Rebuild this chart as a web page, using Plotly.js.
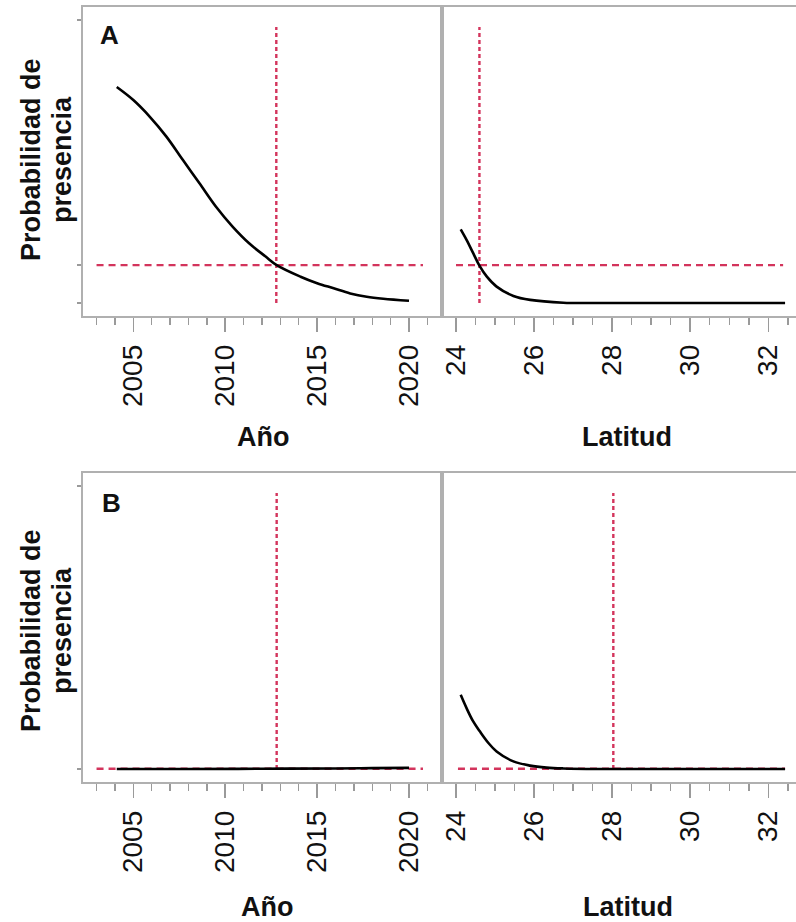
<!DOCTYPE html>
<html>
<head>
<meta charset="utf-8">
<script src="https://cdn.plot.ly/plotly-3.0.1.min.js"></script>
<style>
  html, body { margin: 0; padding: 0; background: #fff; overflow: hidden; }
  #chart { width: 796px; height: 922px; }
</style>
</head>
<body>
<div id="chart"></div>
<script>
// ---------------- DATA ----------------
// Panel A – effect of year
const yearA     = [2004.1, 2005.0, 2005.9, 2006.8, 2007.7, 2008.6, 2009.5, 2010.4, 2011.3, 2012.2, 2012.8, 2014.1, 2015.0, 2015.9, 2016.8, 2017.7, 2018.6, 2020.0];
const probYearA = [0.763, 0.717, 0.658, 0.588, 0.505, 0.423, 0.340, 0.270, 0.211, 0.164, 0.134, 0.093, 0.070, 0.052, 0.034, 0.022, 0.015, 0.008];
// Panel A – effect of latitude
const latA      = [24.12, 24.27, 24.44, 24.60, 24.79, 25.04, 25.47, 25.90, 26.75, 27.60, 32.43];
const probLatA  = [0.260, 0.223, 0.176, 0.132, 0.093, 0.058, 0.025, 0.011, 0.001, 0.000, 0.000];
// Panel B – effect of year
const yearB     = [2004.1, 2008.0, 2012.0, 2016.0, 2018.0, 2020.0];
const probYearB = [0.000, 0.000, 0.001, 0.002, 0.003, 0.004];
// Panel B – effect of latitude
const latB      = [24.12, 24.27, 24.44, 24.61, 24.83, 25.04, 25.47, 25.90, 26.32, 26.75, 27.60, 32.43];
const probLatB  = [0.262, 0.215, 0.168, 0.133, 0.092, 0.062, 0.027, 0.012, 0.005, 0.002, 0.000, 0.000];

// Reference (threshold) lines
const thresholdA    = 0.134;   // horizontal dashed line, panel A
const thresholdB    = 0.001;   // horizontal dashed line, panel B
const cutYearA      = 2012.78; // vertical dashed line, panel A (año)
const cutLatA       = 24.60;   // vertical dashed line, panel A (latitud)
const cutYearB      = 2012.80; // vertical dashed line, panel B (año)
const cutLatB       = 28.03;   // vertical dashed line, panel B (latitud)
const hSpanYear     = [2003.0, 2020.76];  // extent of horizontal dashed line (año panels)
const hSpanLatA     = [24.0, 32.38];
const hSpanLatB     = [24.05, 32.43];
const vSpan         = [0, 0.975];          // extent of vertical dashed lines

// Tick labels
const yearTicks = [2005, 2010, 2015, 2020];
const latTicks  = [24, 26, 28, 30, 32];

// Text
const yTitle1 = 'Probabilidad de';
const yTitle2 = 'presencia';
const xTitleYear = 'Año';
const xTitleLat  = 'Latitud';
const panelLabels = ['A', 'B'];

// ---------------- STYLE / LAYOUT ----------------
const W = 796, H = 922;
const M = {l: 83, r: 0, t: 7, b: 140};
const PW = W - M.l - M.r, PH = H - M.t - M.b;
const px = x => (x - M.l) / PW;          // pixel -> paper x
const py = y => (H - M.b - y) / PH;      // pixel -> paper y

const FONT = 'Liberation Sans, Arial, Helvetica, sans-serif';
const RED = '#d3345c';
const BOX = '#b0b0b0';
const TICKC = '#9a9a9a';

const curve = (x, y, xa, ya) => ({
  x, y, xaxis: xa, yaxis: ya, type: 'scatter', mode: 'lines',
  line: {color: '#000', width: 2.6, shape: 'spline', smoothing: 1.0},
  hoverinfo: 'skip', showlegend: false
});
const hline = (span, yv, xa, ya) => ({
  x: span, y: [yv, yv], xaxis: xa, yaxis: ya, type: 'scatter', mode: 'lines',
  line: {color: RED, width: 2.4, dash: '7px,5px'}, hoverinfo: 'skip', showlegend: false
});
const vline = (xv, xa, ya) => ({
  x: [xv, xv], y: vSpan, xaxis: xa, yaxis: ya, type: 'scatter', mode: 'lines',
  line: {color: RED, width: 2.4, dash: '4px,3px'}, hoverinfo: 'skip', showlegend: false
});

const data = [
  hline(hSpanYear, thresholdA, 'x', 'y'),
  vline(cutYearA, 'x', 'y'),
  curve(yearA, probYearA, 'x', 'y'),

  hline(hSpanLatA, thresholdA, 'x2', 'y2'),
  vline(cutLatA, 'x2', 'y2'),
  curve(latA, probLatA, 'x2', 'y2'),

  hline(hSpanYear, thresholdB, 'x3', 'y3'),
  vline(cutYearB, 'x3', 'y3'),
  curve(yearB, probYearB, 'x3', 'y3'),

  hline(hSpanLatB, thresholdB, 'x4', 'y4'),
  vline(cutLatB, 'x4', 'y4'),
  curve(latB, probLatB, 'x4', 'y4'),
];

const leftDom  = [0, px(442)];
const rightDom = [px(442), 1];
const topDom   = [py(316), 1];
const botDom   = [0, py(473)];

const tickFont = {family: FONT, size: 28, color: '#111'};

function xAxis(dom, anchor, range, ticks, minorDt) {
  return {
    domain: dom, anchor, range, type: 'linear',
    tickmode: 'array', tickvals: ticks, ticktext: ticks.map(String),
    ticks: 'outside', ticklen: 14, tickwidth: 1.5, tickcolor: TICKC,
    tickangle: -90, tickfont: tickFont, ticklabelstandoff: 2,
    minor: {tickmode: 'linear', tick0: ticks[0], dtick: minorDt, ticks: 'outside', ticklen: 7, tickwidth: 1.5, tickcolor: TICKC, showgrid: false},
    showline: true, linecolor: BOX, linewidth: 1.6, mirror: true,
    showgrid: false, zeroline: false, fixedrange: true
  };
}
function yAxis(dom, anchor, tickvals, showTicks) {
  return {
    domain: dom, anchor, range: [-0.0459, 1.0459],
    tickmode: 'array', tickvals, ticktext: tickvals.map(() => ''),
    ticks: showTicks ? 'outside' : '', ticklen: 4, tickwidth: 1.2, tickcolor: TICKC,
    showticklabels: false,
    showline: true, linecolor: BOX, linewidth: 1.6, mirror: showTicks ? true : false,
    showgrid: false, zeroline: false, fixedrange: true
  };
}

const yearRange = [2002.263, 2021.795];
const latRange  = [23.641, 32.71];

const layout = {
  width: W, height: H,
  margin: M,
  paper_bgcolor: '#fff', plot_bgcolor: '#fff',
  showlegend: false,
  font: {family: FONT, color: '#111'},
  xaxis:  xAxis(leftDom,  'y',  yearRange, yearTicks, 1),
  xaxis2: xAxis(rightDom, 'y2', latRange,  latTicks,  0.5),
  xaxis3: xAxis(leftDom,  'y3', yearRange, yearTicks, 1),
  xaxis4: xAxis(rightDom, 'y4', latRange,  latTicks,  0.5),
  yaxis:  yAxis(topDom, 'x',  [0, thresholdA, 1], true),
  yaxis2: yAxis(topDom, 'x2', [0, thresholdA, 1], false),
  yaxis3: yAxis(botDom, 'x3', [0, thresholdB, 1], true),
  yaxis4: yAxis(botDom, 'x4', [0, thresholdB, 1], false),
  annotations: []
};

const titleFont = {family: FONT, size: 27, color: '#111', weight: 'bold'};
function ann(text, xp, yp, opts) {
  return Object.assign({
    text, xref: 'paper', yref: 'paper', x: px(xp), y: py(yp),
    xanchor: 'center', yanchor: 'middle', showarrow: false, font: titleFont
  }, opts || {});
}
// Y titles (two lines, rotated)
[[160, 0], [631, 1]].forEach(([cy]) => {
  layout.annotations.push(ann('<b>' + yTitle1 + '</b>', 31, cy, {textangle: -90}));
  layout.annotations.push(ann('<b>' + yTitle2 + '</b>', 62, cy, {textangle: -90}));
});
// X titles
layout.annotations.push(ann('<b>' + xTitleYear + '</b>', 263, 437));
layout.annotations.push(ann('<b>' + xTitleLat + '</b>', 627, 437));
layout.annotations.push(ann('<b>' + xTitleYear + '</b>', 267, 907));
layout.annotations.push(ann('<b>' + xTitleLat + '</b>', 628, 907));
// Panel labels
const labelFont = {family: FONT, size: 26, color: '#111'};
layout.annotations.push(ann('<b>' + panelLabels[0] + '</b>', 109, 35, {font: labelFont}));
layout.annotations.push(ann('<b>' + panelLabels[1] + '</b>', 111, 503, {font: labelFont}));

Plotly.newPlot('chart', data, layout, {staticPlot: true, displayModeBar: false});
</script>
</body>
</html>
